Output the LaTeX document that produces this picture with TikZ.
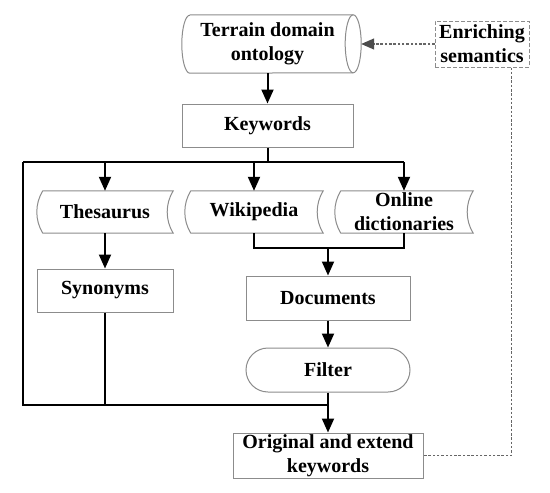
\documentclass[tikz,border=0pt]{standalone}
\usepackage{fontspec}
\setmainfont{Liberation Serif}
\usetikzlibrary{arrows.meta}
\newcommand\tapeshape[1]{%
  \draw[boxline] ([xshift=6pt]#1.north west) -- (#1.north east)
    .. controls ([xshift=-8pt,yshift=-12.8pt]#1.north east) and ([xshift=-8pt,yshift=12.8pt]#1.south east) .. (#1.south east)
    -- ([xshift=6pt]#1.south west)
    .. controls ([xshift=-2pt,yshift=12.8pt]#1.south west) and ([xshift=-2pt,yshift=-12.8pt]#1.north west) .. cycle;}
\begin{document}
\begin{tikzpicture}[x=1pt,y=-1pt,
  every node/.style={font=\bfseries\fontsize{20}{24}\selectfont, align=center, inner sep=0pt},
  boxline/.style={draw=black!45, line width=1pt},
  plainbox/.style={boxline, rectangle},
  nobox/.style={rectangle, draw=none},
  line/.style={draw=black, line width=2pt},
  arr/.style={line, -{Triangle[length=14pt,width=12pt]}},
  dline/.style={draw=black!60, line width=1.3pt, dash pattern=on 2.5pt off 1.8pt},
  darr/.style={dline, -{Triangle[length=13pt,width=11pt,color=black!70]}}]
\useasboundingbox (0,0) rectangle (550,493);
\fill[white] (0,0) rectangle (550,493);

% nodes
\node[nobox, minimum width=171pt, minimum height=58pt] (onto) at (267.5,44) {Terrain domain\\ontology};
\node[plainbox, dashed, dash pattern=on 4pt off 2pt, minimum width=94pt, minimum height=46pt] (enrich) at (482,44) {Enriching\\semantics};
\node[plainbox, minimum width=171pt, minimum height=43pt] (kw) at (267.5,125.5) {Keywords};
\node[nobox, minimum width=136pt, minimum height=42pt] (thes) at (105,212) {Thesaurus};
\node[nobox, minimum width=138pt, minimum height=42pt] (wiki) at (254,212) {Wikipedia};
\node[nobox, minimum width=138pt, minimum height=42pt] (online) at (404,212) {Online\\dictionaries};
\node[plainbox, minimum width=136pt, minimum height=43pt] (syn) at (105,290.5) {Synonyms};
\node[plainbox, minimum width=164pt, minimum height=44pt] (docs) at (328,298) {Documents};
\node[plainbox, rounded corners=22pt, minimum width=164pt, minimum height=44pt] (filter) at (328,370) {Filter};
\node[plainbox, minimum width=190pt, minimum height=45pt] (orig) at (328,455.5) {Original and extend\\keywords};

% cylinder outline
\draw[boxline] ([xshift=8pt]onto.north west) -- (onto.north east)
  arc[start angle=90, end angle=-90, x radius=8pt, y radius=29pt]
  -- ([xshift=8pt]onto.south west)
  arc[start angle=-90, end angle=-270, x radius=8pt, y radius=29pt];
\draw[boxline] (onto.north east) arc[start angle=90, end angle=270, x radius=8pt, y radius=29pt];
\coordinate (ontoR) at ([xshift=8pt]onto.east);

% tape outlines
\tapeshape{thes}
\tapeshape{wiki}
\tapeshape{online}

% coordinates
\coordinate (top) at (267.5,162);
\coordinate (L) at (23,162);
\coordinate (Lb) at (23,405);
\coordinate (mid) at (328,248);

% connectors
\draw[arr] (onto.south) -- (kw.north);
\draw[line] (kw.south) -- (top);
\draw[line] (L) -- (top -| online.north);
\draw[arr] (top -| thes.north) -- (thes.north);
\draw[arr] (top -| wiki.north) -- (wiki.north);
\draw[arr] (top -| online.north) -- (online.north);
\draw[arr] (thes.south) -- (syn.north);
\draw[line] (wiki.south) |- (mid);
\draw[line] (online.south) |- (mid);
\draw[arr] (mid) -- (docs.north);
\draw[arr] (docs.south) -- (filter.north);
\draw[arr] (filter.south) -- (orig.north);
\draw[line] (L) -- (Lb) -- (Lb -| orig.north);
\draw[line] (syn.south) -- (syn.south |- Lb);

% dashed feedback
\draw[darr] (enrich.west) -- (ontoR);
\draw[dline] ([xshift=-18pt]enrich.south east) |- (orig.east);
\end{tikzpicture}
\end{document}
